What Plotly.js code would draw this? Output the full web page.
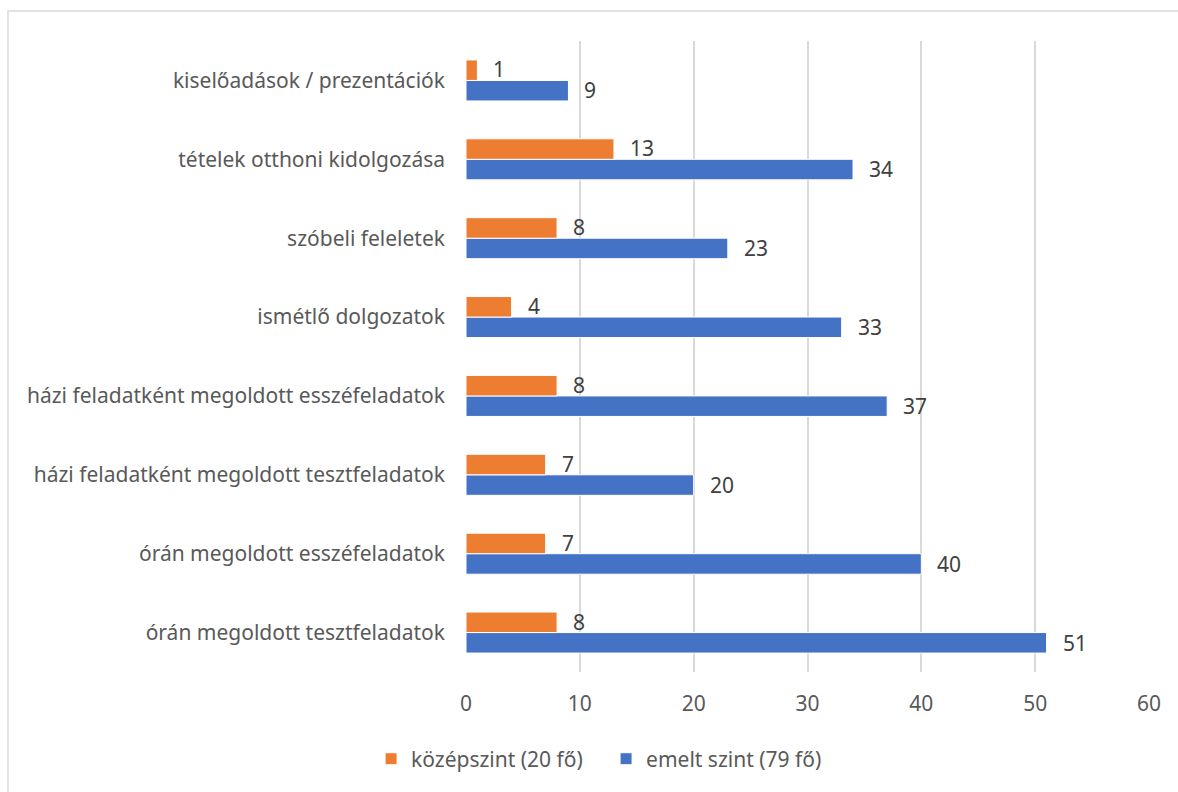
<!DOCTYPE html>
<html><head><meta charset="utf-8">
<script src="https://cdn.plot.ly/plotly-3.0.1.min.js"></script>
<style>html,body{margin:0;padding:0;background:#fff;}#chart{width:1178px;height:792px;}</style>
</head><body><div id="chart"></div>
<script>
const categories = [
  "órán megoldott tesztfeladatok",
  "órán megoldott esszéfeladatok",
  "házi feladatként megoldott tesztfeladatok",
  "házi feladatként megoldott esszéfeladatok",
  "ismétlő dolgozatok",
  "szóbeli feleletek",
  "tételek otthoni kidolgozása",
  "kiselőadások / prezentációk"
];
const kozepszint = [8, 7, 7, 8, 4, 8, 13, 1];
const emelt = [51, 40, 20, 37, 33, 23, 34, 9];
const seriesNames = ["középszint (20 fő)", "emelt szint (79 fő)"];
const xTicks = [0, 10, 20, 30, 40, 50, 60];

const FONT = "Noto Sans, Open Sans, sans-serif";
const FS = 21;
const traces = [
  {type:'bar', orientation:'h', name:seriesNames[1], y:categories, x:emelt,
   marker:{color:'#4472C4', line:{color:'#ffffff', width:1}}, hoverinfo:'x'},
  {type:'bar', orientation:'h', name:seriesNames[0], y:categories, x:kozepszint,
   marker:{color:'#ED7D31', line:{color:'#ffffff', width:1}}, hoverinfo:'x'}
];
const annotations = [];
categories.forEach((c,i)=>{
  annotations.push({x:emelt[i], y:c, text:String(emelt[i]), showarrow:false, xanchor:'left', xshift:14, yshift:-10,
    font:{family:FONT, size:FS, color:'#404040'}});
  annotations.push({x:kozepszint[i], y:c, text:String(kozepszint[i]), showarrow:false, xanchor:'left', xshift:14, yshift:11,
    font:{family:FONT, size:FS, color:'#404040'}});
});
const layout = {
  width:1178, height:792,
  margin:{l:466, r:29, t:41, b:118},
  paper_bgcolor:'#ffffff', plot_bgcolor:'#ffffff',
  barmode:'group', bargap:0.48, bargroupgap:0,
  font:{family:FONT, size:FS, color:'#595959'},
  xaxis:{range:[0,60], tickvals:xTicks, showgrid:true, gridcolor:'#d9d9d9', gridwidth:2,
    zeroline:false, showline:false, ticks:'', ticklabelstandoff:17, fixedrange:true,
    tickfont:{family:FONT, size:FS, color:'#595959'}},
  yaxis:{type:'category', showgrid:false, zeroline:false, showline:false, ticks:'', ticklabelstandoff:20,
    fixedrange:true, tickfont:{family:FONT, size:FS, color:'#595959'}},
  legend:{orientation:'h', traceorder:'reversed', x:-0.139, xanchor:'left', y:-0.138, yanchor:'middle',
    font:{family:FONT, size:FS, color:'#595959'}, itemwidth:30, entrywidth:190},
  annotations:annotations,
  shapes:[{type:'rect', xref:'paper', yref:'paper', x0:-0.6706, x1:1.06, y0:-0.2, y1:1.0474,
    line:{color:'#d9d9d9', width:1.5}, fillcolor:'rgba(0,0,0,0)', layer:'below'}],
  showlegend:true
};
Plotly.newPlot('chart', traces, layout, {displayModeBar:false, staticPlot:true});
</script></body></html>
